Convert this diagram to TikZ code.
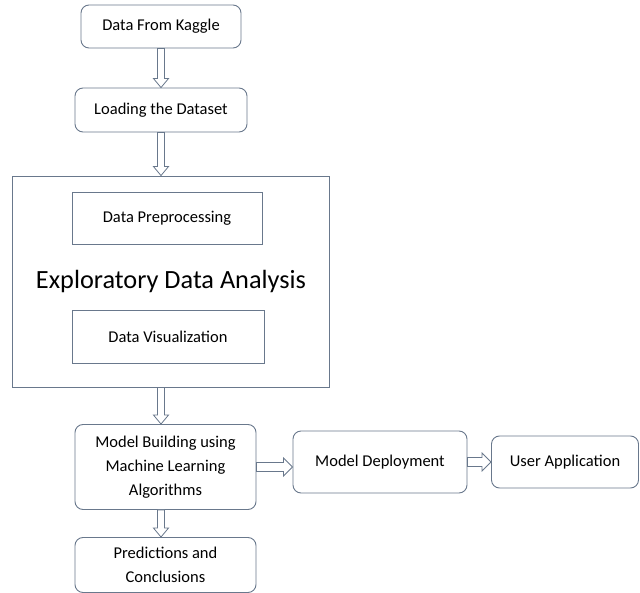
\documentclass[tikz,border=0pt]{standalone}
\usepackage{fontspec}
\setmainfont{Carlito}
\usetikzlibrary{calc}
\definecolor{edge}{RGB}{105,120,140}
\tikzset{
  box/.style={draw=edge, line width=0.9pt, rounded corners=8pt, align=center,
    inner sep=2pt, font=\fontsize{16.5}{24}\selectfont},
  plainbox/.style={box, rounded corners=0pt},
  blockarrow/.style={draw=edge, line width=0.8pt, fill=white, line join=miter}
}
% hollow block arrow, pointing down, from #1 to #2
\newcommand\vblock[2]{%
  \path[blockarrow] let \p1=(#1), \p2=(#2) in
    (\x1-3.5pt,\y1) -- (\x1-3.5pt,\y2+9pt) -- (\x1-7.5pt,\y2+9pt) -- (\x1,\y2)
    -- (\x1+7.5pt,\y2+9pt) -- (\x1+3.5pt,\y2+9pt) -- (\x1+3.5pt,\y1) -- cycle;}
% hollow block arrow, pointing right, from #1 to #2
\newcommand\hblock[2]{%
  \path[blockarrow] let \p1=(#1), \p2=(#2) in
    (\x1,\y1+4.5pt) -- (\x2-9pt,\y1+4.5pt) -- (\x2-9pt,\y1+9pt) -- (\x2,\y1)
    -- (\x2-9pt,\y1-9pt) -- (\x2-9pt,\y1-4.5pt) -- (\x1,\y1-4.5pt) -- cycle;}
\begin{document}
\begin{tikzpicture}[x=1pt,y=-1pt]
  \useasboundingbox (0,0) rectangle (640,593);

  \node[box, minimum width=160pt, minimum height=43pt] (kaggle) at (161,26.5) {Data From Kaggle};
  \node[box, minimum width=172pt, minimum height=44pt] (load) at (161,110) {Loading the Dataset};

  \node[plainbox, minimum width=317pt, minimum height=211pt] (eda) at (170.5,281.5) {};
  \node[plainbox, minimum width=190pt, minimum height=52pt] (prep) at (167,218) {Data Preprocessing};
  \node[font=\fontsize{26.3}{30}\selectfont] (edatitle) at (171,281) {Exploratory Data Analysis};
  \node[plainbox, minimum width=192pt, minimum height=53pt] (vis) at (168,336.5) {Data Visualization};

  \node[box, minimum width=181pt, minimum height=85pt] (model) at (165.5,467)
    {Model Building using\\Machine Learning\\Algorithms};
  \node[box, minimum width=181pt, minimum height=55pt] (pred) at (165.5,565)
    {Predictions and\\Conclusions};
  \node[box, minimum width=174pt, minimum height=62pt] (deploy) at (380,462) {Model Deployment};
  \node[box, minimum width=147pt, minimum height=52pt] (user) at (565,462) {User Application};

  \vblock{kaggle.south}{load.north -| kaggle}
  \vblock{load.south}{eda.north -| load}
  \vblock{eda.south -| load}{model.north -| load}
  \vblock{model.south -| load}{pred.north -| load}
  \hblock{model.east}{deploy.west}
  \hblock{deploy.east}{user.west}
\end{tikzpicture}
\end{document}
